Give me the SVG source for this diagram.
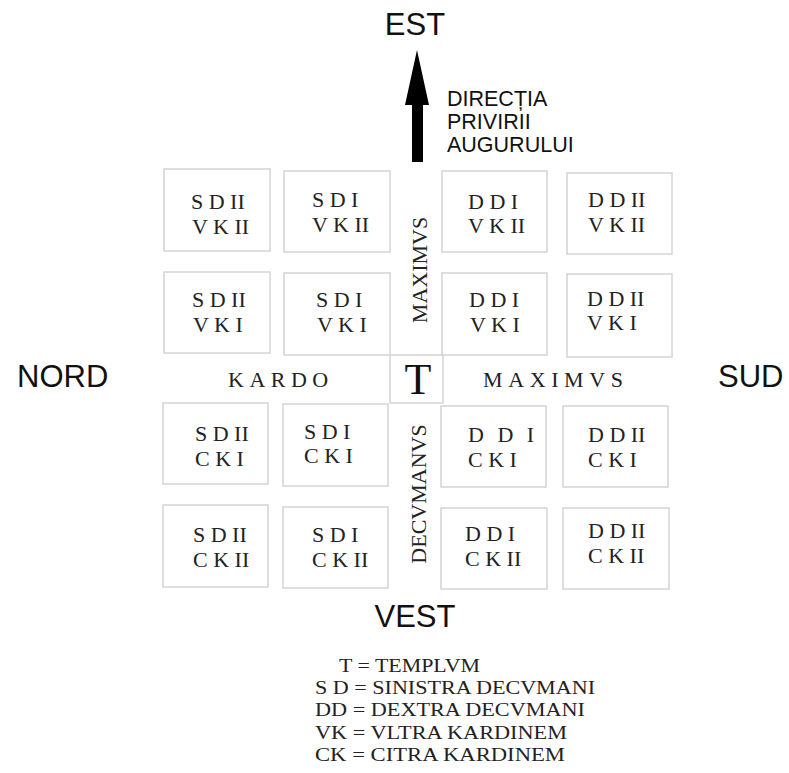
<svg xmlns="http://www.w3.org/2000/svg" width="789" height="773" viewBox="0 0 789 773">
<style>
.box{fill:none;stroke:#d4d4d4;stroke-width:1.5}
.lbl{font-family:"Liberation Serif","Times New Roman",serif;font-size:22px;fill:#222}
.road{font-family:"Liberation Serif","Times New Roman",serif;font-size:22px;fill:#222}
.cardinal{font-family:"Liberation Sans",Arial,sans-serif;font-size:31px;fill:#111}
.dir{font-family:"Liberation Sans",Arial,sans-serif;font-size:21.5px;fill:#111}
.leg{font-family:"Liberation Serif","Times New Roman",serif;font-size:19.5px;fill:#222}
</style>
<rect width="789" height="773" fill="#fff"/>

<g id="est"><text class="cardinal" x="415" y="35" text-anchor="middle">EST</text></g>
<g id="nord"><text class="cardinal" x="17" y="387">NORD</text></g>
<g id="sud"><text class="cardinal" x="718" y="387">SUD</text></g>
<g id="vest"><text class="cardinal" x="415" y="627" text-anchor="middle">VEST</text></g>

<g id="directia">
<text class="dir" x="447" y="106">DIRECȚIA</text>
<text class="dir" x="447" y="129">PRIVIRII</text>
<text class="dir" x="447" y="152">AUGURULUI</text>
</g>

<g id="connectors">
<polygon points="417,50 429,105 423,105 423,162 412,162 412,105 405,105" fill="#000"/>
</g>

<g id="b-sdii-vkii"><rect class="box" x="164" y="169" width="106" height="82"/>
<text class="lbl" x="191" y="209">S D II</text><text class="lbl" x="192" y="234">V K II</text></g>
<g id="b-sdi-vkii"><rect class="box" x="284" y="171" width="106" height="81"/>
<text class="lbl" x="312" y="207">S D I</text><text class="lbl" x="312" y="232">V K II</text></g>
<g id="b-ddi-vkii"><rect class="box" x="442" y="171" width="105" height="81"/>
<text class="lbl" x="468" y="209">D D I</text><text class="lbl" x="468" y="233">V K II</text></g>
<g id="b-ddii-vkii"><rect class="box" x="567" y="173" width="105" height="81"/>
<text class="lbl" x="588" y="207">D D II</text><text class="lbl" x="588" y="232">V K II</text></g>

<g id="b-sdii-vki"><rect class="box" x="164" y="272" width="106" height="81"/>
<text class="lbl" x="192" y="307">S D II</text><text class="lbl" x="193" y="332">V K I</text></g>
<g id="b-sdi-vki"><rect class="box" x="284" y="273" width="106" height="82"/>
<text class="lbl" x="316" y="307">S D I</text><text class="lbl" x="317" y="332">V K I</text></g>
<g id="b-ddi-vki"><rect class="box" x="442" y="273" width="105" height="82"/>
<text class="lbl" x="469" y="307">D D I</text><text class="lbl" x="470" y="332">V K I</text></g>
<g id="b-ddii-vki"><rect class="box" x="567" y="274" width="105" height="83"/>
<text class="lbl" x="587" y="306">D D II</text><text class="lbl" x="587" y="330">V K I</text></g>

<g id="templum"><rect class="box" x="390" y="355" width="53" height="48"/>
<text x="418" y="394" text-anchor="middle" style="font-family:'Liberation Serif','Times New Roman',serif;font-size:44px;fill:#111">T</text></g>

<g id="kardo"><text class="road" x="228" y="387" letter-spacing="5.5">KARDO</text></g>
<g id="maximus-h"><text class="road" x="483" y="387" letter-spacing="5.6">MAXIMVS</text></g>
<g id="maximus-v"><text class="road" text-anchor="middle" transform="translate(427,270) rotate(-90)">MAXIMVS</text></g>
<g id="decumanus-v"><text class="road" text-anchor="middle" transform="translate(426,494) rotate(-90)">DECVMANVS</text></g>

<g id="b-sdii-cki"><rect class="box" x="163" y="403" width="105" height="81"/>
<text class="lbl" x="195" y="441">S D II</text><text class="lbl" x="195" y="466">C K I</text></g>
<g id="b-sdi-cki"><rect class="box" x="283" y="404" width="105" height="82"/>
<text class="lbl" x="304" y="439">S D I</text><text class="lbl" x="304" y="463">C K I</text></g>
<g id="b-ddi-cki"><rect class="box" x="441" y="406" width="105" height="81"/>
<text class="lbl" x="468" y="442" letter-spacing="4">D D I</text><text class="lbl" x="468" y="467">C K I</text></g>
<g id="b-ddii-cki"><rect class="box" x="563" y="406" width="105" height="81"/>
<text class="lbl" x="588" y="442">D D II</text><text class="lbl" x="588" y="467">C K I</text></g>

<g id="b-sdii-ckii"><rect class="box" x="163" y="505" width="105" height="82"/>
<text class="lbl" x="193" y="542">S D II</text><text class="lbl" x="193" y="567">C K II</text></g>
<g id="b-sdi-ckii"><rect class="box" x="283" y="507" width="105" height="81"/>
<text class="lbl" x="312" y="542">S D I</text><text class="lbl" x="312" y="567">C K II</text></g>
<g id="b-ddi-ckii"><rect class="box" x="441" y="508" width="106" height="81"/>
<text class="lbl" x="465" y="541">D D I</text><text class="lbl" x="465" y="566">C K II</text></g>
<g id="b-ddii-ckii"><rect class="box" x="563" y="508" width="106" height="81"/>
<text class="lbl" x="588" y="538">D D II</text><text class="lbl" x="588" y="563">C K II</text></g>

<g id="legend">
<text class="leg" x="339" y="672" textLength="141" lengthAdjust="spacingAndGlyphs">T = TEMPLVM</text>
<text class="leg" x="315" y="694" textLength="280" lengthAdjust="spacingAndGlyphs">S D = SINISTRA DECVMANI</text>
<text class="leg" x="315" y="716" textLength="270" lengthAdjust="spacingAndGlyphs">DD = DEXTRA DECVMANI</text>
<text class="leg" x="315" y="739" textLength="252" lengthAdjust="spacingAndGlyphs">VK = VLTRA KARDINEM</text>
<text class="leg" x="315" y="761" textLength="250" lengthAdjust="spacingAndGlyphs">CK = CITRA KARDINEM</text>
</g>
</svg>
